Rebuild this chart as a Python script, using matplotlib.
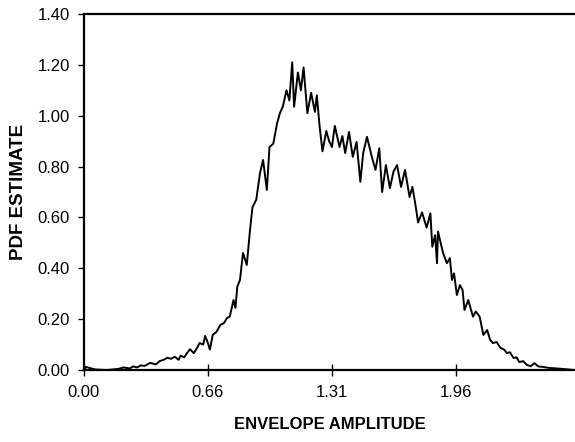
import matplotlib
matplotlib.use("Agg")
import matplotlib.pyplot as plt

# Envelope amplitude (x) and PDF estimate (y)
amplitude = [0.00, 0.01, 0.03, 0.06, 0.12, 0.18, 0.21, 0.24, 0.26, 0.28, 0.30, 0.32, 0.35, 0.38,
             0.40, 0.42, 0.44, 0.46, 0.48, 0.50, 0.51, 0.53, 0.54, 0.56, 0.58, 0.60, 0.61,
             0.63, 0.64, 0.655, 0.665, 0.68, 0.70, 0.72, 0.74, 0.755, 0.77, 0.79, 0.80, 0.81,
             0.824, 0.84, 0.86, 0.877, 0.89, 0.91, 0.93, 0.946, 0.966, 0.98, 1.00, 1.02,
             1.035, 1.05, 1.07, 1.085, 1.10, 1.11, 1.13, 1.146, 1.16, 1.18, 1.20, 1.22, 1.23,
             1.245, 1.26, 1.28, 1.295, 1.31, 1.325, 1.35, 1.365, 1.38, 1.40, 1.42, 1.44, 1.46,
             1.475, 1.495, 1.52, 1.54, 1.56, 1.575, 1.595, 1.616, 1.635, 1.654, 1.675, 1.696,
             1.72, 1.735, 1.75, 1.765, 1.786, 1.81, 1.83, 1.84, 1.855, 1.865, 1.87, 1.897,
             1.917, 1.933, 1.944, 1.955, 1.97, 1.986, 2.00, 2.01, 2.03, 2.055, 2.07, 2.09,
             2.11, 2.13, 2.145, 2.16, 2.18, 2.20, 2.22, 2.235, 2.25, 2.27, 2.285, 2.30, 2.32,
             2.34, 2.36, 2.38, 2.40, 2.425, 2.46, 2.50, 2.59]
pdf_estimate = [0.00, 0.012, 0.008, 0.002, 0.0, 0.004, 0.010, 0.006, 0.014, 0.010, 0.018, 0.016,
                0.028, 0.022, 0.035, 0.040, 0.048, 0.044, 0.052, 0.040, 0.056, 0.050, 0.062,
                0.082, 0.066, 0.090, 0.106, 0.100, 0.134, 0.105, 0.080, 0.138, 0.150, 0.177,
                0.185, 0.204, 0.210, 0.275, 0.244, 0.328, 0.354, 0.46, 0.413, 0.55, 0.64, 0.67,
                0.775, 0.826, 0.708, 0.877, 0.89, 0.97, 1.01, 1.035, 1.10, 1.06, 1.21, 1.035,
                1.17, 1.10, 1.19, 1.01, 1.09, 1.015, 1.08, 0.956, 0.86, 0.94, 0.90, 0.877, 0.96,
                0.877, 0.92, 0.853, 0.936, 0.838, 0.897, 0.74, 0.853, 0.917, 0.84, 0.787,
                0.872, 0.70, 0.806, 0.715, 0.78, 0.806, 0.72, 0.787, 0.68, 0.72, 0.655, 0.58,
                0.62, 0.56, 0.616, 0.485, 0.53, 0.42, 0.545, 0.46, 0.42, 0.44, 0.354, 0.38,
                0.295, 0.334, 0.315, 0.236, 0.275, 0.21, 0.23, 0.21, 0.138, 0.157, 0.12, 0.106,
                0.110, 0.087, 0.080, 0.066, 0.070, 0.047, 0.050, 0.031, 0.035, 0.020, 0.015,
                0.027, 0.014, 0.012, 0.008, 0.006, 0.0]

x_ticks = [0.0, 0.655, 1.31, 1.965]
x_tick_labels = ["0.00", "0.66", "1.31", "1.96"]
y_ticks = [0.0, 0.2, 0.4, 0.6, 0.8, 1.0, 1.2, 1.4]
y_tick_labels = ["0.00", "0.20", "0.40", "0.60", "0.80", "1.00", "1.20", "1.40"]

plt.rcParams['font.family'] = ['Liberation Sans', 'DejaVu Sans']

fig = plt.figure(figsize=(5.75, 4.42), dpi=100)
ax = fig.add_axes([84 / 575, 72 / 442, 1 - 84 / 575, (370 - 14) / 442])

ax.plot(amplitude, pdf_estimate, color='black', linewidth=1.4)

ax.set_xlim(0, 2.594)
ax.set_ylim(0, 1.40)
ax.set_xticks(x_ticks)
ax.set_xticklabels(x_tick_labels)
ax.set_yticks(y_ticks)
ax.set_yticklabels(y_tick_labels)

ax.tick_params(axis='x', direction='inout', length=8, width=1, pad=7, labelsize=12)
ax.tick_params(axis='y', direction='out', length=4, width=1, pad=6, labelsize=12)

for side in ['left', 'top', 'bottom']:
    ax.spines[side].set_linewidth(1.6)
ax.spines['right'].set_visible(False)

ax.set_xlabel("ENVELOPE AMPLITUDE", fontsize=12, fontweight='bold', labelpad=12)
ax.set_ylabel("PDF ESTIMATE", fontsize=13.5, fontweight='bold', labelpad=8)

fig.savefig("out.png", dpi=100)
